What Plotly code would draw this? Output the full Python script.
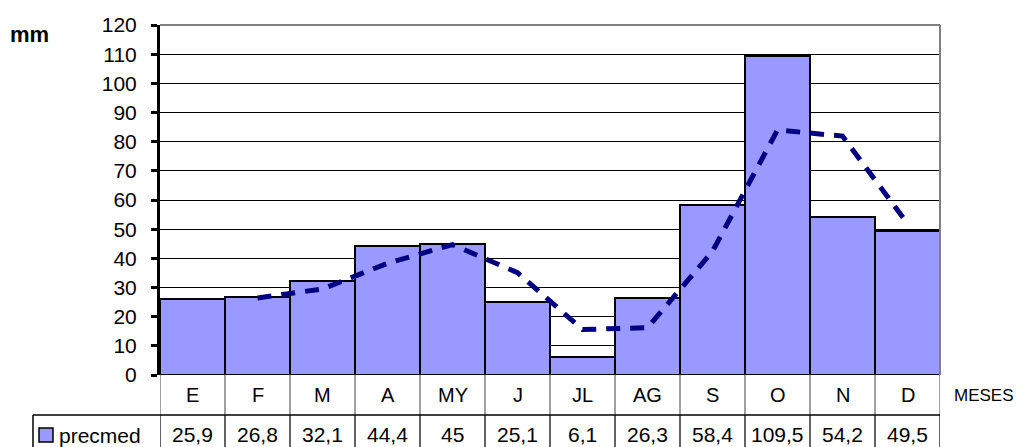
import plotly.graph_objects as go

months = ["E", "F", "M", "A", "MY", "J", "JL", "AG", "S", "O", "N", "D"]
precmed = [25.9, 26.8, 32.1, 44.4, 45, 25.1, 6.1, 26.3, 58.4, 109.5, 54.2, 49.5]
value_labels = ["25,9", "26,8", "32,1", "44,4", "45", "25,1", "6,1", "26,3", "58,4", "109,5", "54,2", "49,5"]
# dashed trend line (2-period moving average)
trend = [None, 26.4, 29.5, 38.3, 44.7, 35.1, 15.6, 16.2, 42.4, 84.0, 81.9, 51.9]
y_ticks = list(range(0, 121, 10))

W, H = 1029, 447
FONT = "Arial, Liberation Sans, sans-serif"

def px(x):
    return x / W

def py(y):
    return (H - y) / H

fig = go.Figure()
fig.add_trace(go.Bar(
    x=months, y=precmed, width=1,
    marker=dict(color="#9999FF", line=dict(color="black", width=2)),
    showlegend=False,
))
fig.add_trace(go.Scatter(
    x=months, y=trend, mode="lines",
    line=dict(color="#000080", width=5, dash="14px,10px"),
    connectgaps=False, showlegend=False,
))

shapes = []
annotations = []
n = len(months)
# plot-area border (top and right, gray)
shapes.append(dict(type="line", xref="x domain", yref="y domain", x0=0, x1=1, y0=1, y1=1,
                   line=dict(color="#808080", width=2)))
shapes.append(dict(type="line", xref="x domain", yref="y domain", x0=1, x1=1, y0=0, y1=1,
                   line=dict(color="#808080", width=2)))
# data table below
for i in range(n + 1):
    xpos = i - 0.5
    shapes.append(dict(type="line", xref="x", yref="paper", x0=xpos, x1=xpos,
                       y0=py(375), y1=py(415), line=dict(color="#808080", width=1.5)))
    shapes.append(dict(type="line", xref="x", yref="paper", x0=xpos, x1=xpos,
                       y0=py(415), y1=py(447), line=dict(color="#303030", width=1.5)))
shapes.append(dict(type="line", xref="paper", yref="paper", x0=px(33), x1=px(160),
                   y0=py(415), y1=py(415), line=dict(color="black", width=1.5)))
shapes.append(dict(type="line", xref="x", yref="paper", x0=-0.5, x1=n - 0.5,
                   y0=py(415), y1=py(415), line=dict(color="black", width=1.5)))
shapes.append(dict(type="line", xref="paper", yref="paper", x0=px(33), x1=px(33),
                   y0=py(415), y1=py(447), line=dict(color="black", width=1.5)))
# legend swatch
shapes.append(dict(type="rect", xref="paper", yref="paper", x0=px(39), x1=px(53),
                   y0=py(442), y1=py(428), fillcolor="#9999FF",
                   line=dict(color="black", width=1.5)))

for m, lab in zip(months, value_labels):
    annotations.append(dict(x=m, xref="x", y=py(395), yref="paper", text=m,
                            showarrow=False, font=dict(family=FONT, size=20, color="black"),
                            xanchor="center", yanchor="middle"))
    annotations.append(dict(x=m, xref="x", y=py(434), yref="paper", text=lab,
                            showarrow=False, font=dict(family=FONT, size=21, color="black"),
                            xanchor="center", yanchor="middle"))
annotations.append(dict(x=px(57), xref="paper", y=py(435), yref="paper", text="precmed",
                        showarrow=False, font=dict(family=FONT, size=21, color="black"),
                        xanchor="left", yanchor="middle"))
annotations.append(dict(x=px(8), xref="paper", y=py(34), yref="paper", text="<b>mm</b>",
                        showarrow=False, font=dict(family=FONT, size=22, color="black"),
                        xanchor="left", yanchor="middle"))
annotations.append(dict(x=px(952), xref="paper", y=py(395), yref="paper", text="MESES",
                        showarrow=False, font=dict(family=FONT, size=17, color="black"),
                        xanchor="left", yanchor="middle"))

fig.update_layout(
    width=W, height=H,
    margin=dict(l=0, r=0, t=0, b=0, autoexpand=False),
    paper_bgcolor="white", plot_bgcolor="white",
    bargap=0,
    shapes=shapes, annotations=annotations,
    xaxis=dict(domain=[px(160), px(940)], showticklabels=False, showgrid=False,
               zeroline=False, showline=False, ticks="", range=[-0.5, n - 0.5],
               fixedrange=True, automargin=False),
    yaxis=dict(domain=[py(375), py(25)], range=[0, 120], tickvals=y_ticks,
               showgrid=True, gridcolor="black", gridwidth=1,
               zeroline=False, showline=True, linecolor="black", linewidth=3,
               ticks="outside", ticklen=6, tickwidth=3, tickcolor="black",
               ticklabelstandoff=10, automargin=False,
               tickfont=dict(family=FONT, size=21, color="black"), fixedrange=True),
)

fig.write_html("out.html")
